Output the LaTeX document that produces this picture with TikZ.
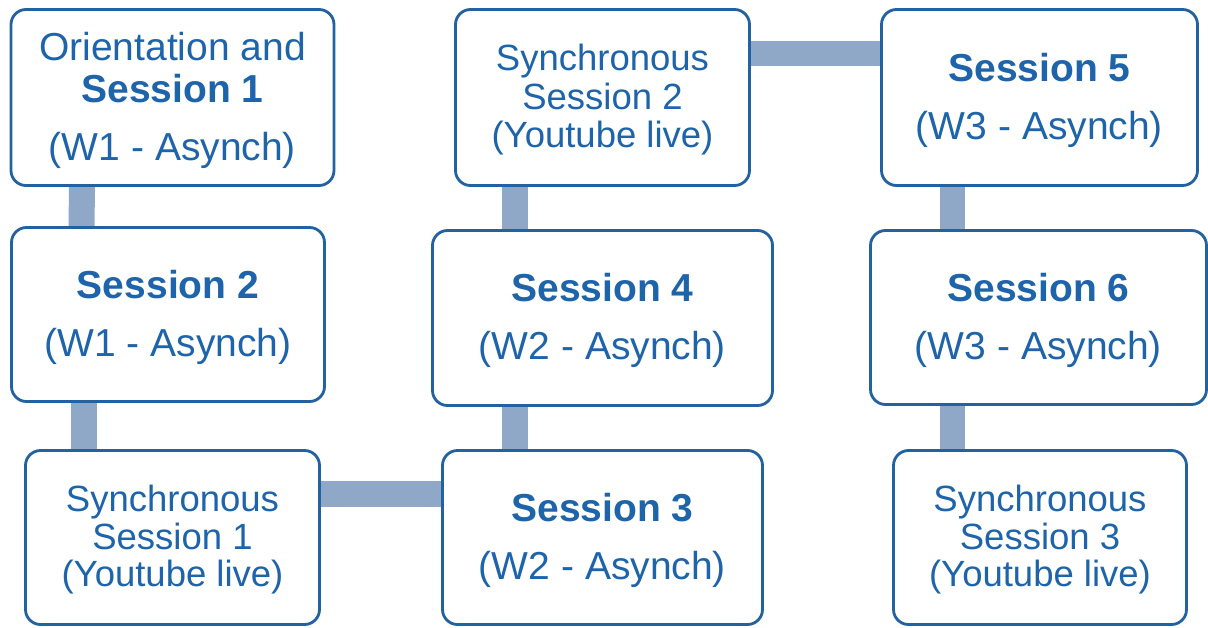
\documentclass[tikz,border=0pt]{standalone}
\usepackage{fontspec}
\setmainfont{Liberation Sans}
\usetikzlibrary{backgrounds}
\definecolor{boxline}{RGB}{35,98,160}
\definecolor{boxtext}{RGB}{30,100,170}
\definecolor{conncol}{RGB}{143,168,200}
\begin{document}
\begin{tikzpicture}[x=1pt,y=-1pt,
  box/.style={draw=boxline, line width=2.8pt, fill=white, rounded corners=15pt,
    text=boxtext, align=center, inner sep=0pt, outer sep=0pt, text depth=3pt},
  asyn/.style={box, font=\fontsize{39}{58}\selectfont},
  syn/.style={box, font=\fontsize{36.5}{37.5}\selectfont},
  conn/.style={draw=conncol, line width=26pt}]
\useasboundingbox (0,0) rectangle (1208,627);

\node[box, font=\fontsize{39}{42}\selectfont, minimum width=323pt, minimum height=176pt] (b1) at (172.5,97.5)
  {Orientation and\\\textbf{Session 1}\\[16pt](W1 - Asynch)};
\node[asyn, minimum width=313pt, minimum height=174pt] (b2) at (168,314.5)
  {\textbf{Session 2}\\(W1 - Asynch)};
\node[syn, minimum width=294pt, minimum height=174pt] (b3) at (172.5,537.5)
  {Synchronous\\Session 1\\(Youtube live)};
\node[asyn, minimum width=320pt, minimum height=174pt] (b4) at (602.5,537.5)
  {\textbf{Session 3}\\(W2 - Asynch)};
\node[asyn, minimum width=340pt, minimum height=175pt] (b5) at (602.5,318)
  {\textbf{Session 4}\\(W2 - Asynch)};
\node[syn, font=\fontsize{36.5}{38.5}\selectfont, minimum width=294pt, minimum height=176pt] (b6) at (602.5,97.5)
  {Synchronous\\Session 2\\(Youtube live)};
\node[asyn, minimum width=316pt, minimum height=176pt] (b7) at (1039.5,97.5)
  {\textbf{Session 5}\\(W3 - Asynch)};
\node[asyn, minimum width=336pt, minimum height=174pt] (b8) at (1038.5,317.5)
  {\textbf{Session 6}\\(W3 - Asynch)};
\node[syn, minimum width=293pt, minimum height=174pt] (b9) at (1040,537.5)
  {Synchronous\\Session 3\\(Youtube live)};

\begin{scope}[on background layer]
\fill[white] (0,0) rectangle (1208,627);
\draw[conn] ([xshift=71pt]b1.south west) -- ([xshift=70pt]b2.north west);
\draw[conn] ([xshift=72pt]b2.south west) -- ([xshift=58pt]b3.north west);
\draw[conn] ([yshift=-43.5pt]b3.north east) -- ([yshift=-43.5pt]b4.north west);
\draw[conn] ([xshift=72pt]b4.north west) -- ([xshift=82pt]b5.south west);
\draw[conn] ([xshift=82pt]b5.north west) -- ([xshift=59pt]b6.south west);
\draw[conn, line width=25pt] ([yshift=-43.5pt]b6.north east) -- ([yshift=-43.5pt]b7.north west);
\draw[conn, line width=25pt] ([xshift=71pt]b7.south west) -- ([xshift=82pt]b8.north west);
\draw[conn, line width=25pt] ([xshift=82pt]b8.south west) -- ([xshift=59pt]b9.north west);
\end{scope}
\end{tikzpicture}
\end{document}
